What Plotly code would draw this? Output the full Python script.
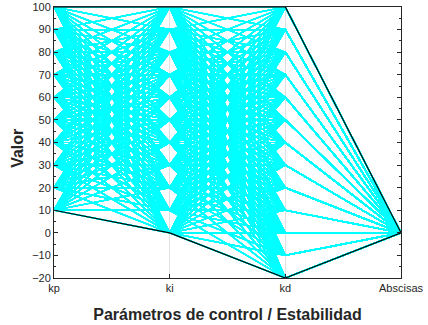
import itertools
import plotly.graph_objects as go

axes_labels = ["kp", "ki", "kd", "Abscisas"]
kp_values = [10, 20, 30, 40, 50, 60, 70, 80, 90, 100]
ki_values = [0, 10, 20, 30, 40, 50, 60, 70, 80, 90, 100]
kd_values = [-20, -10, 0, 10, 20, 30, 40, 50, 60, 70, 80, 90, 100]
abscisa_value = 0
highlight_lines = [[10, 0, -20, 0], [100, 100, 100, 0]]
y_ticks = [-20, -10, 0, 10, 20, 30, 40, 50, 60, 70, 80, 90, 100]

xs_pos = [1, 2, 3, 4]

xs, ys = [], []
for kp, ki, kd in itertools.product(kp_values, ki_values, kd_values):
    xs.extend(xs_pos + [None])
    ys.extend([kp, ki, kd, abscisa_value, None])

fig = go.Figure()
fig.add_trace(go.Scatter(x=xs, y=ys, mode="lines",
                         line=dict(color="#00FFFF", width=1.2),
                         hoverinfo="skip", showlegend=False))
for hl in highlight_lines:
    fig.add_trace(go.Scatter(x=xs_pos, y=hl, mode="lines",
                             line=dict(color="black", width=1.2),
                             hoverinfo="skip", showlegend=False))

font_family = "Liberation Sans, Arial, sans-serif"
fig.update_layout(
    width=428, height=325,
    margin=dict(l=54, r=27, t=7, b=47),
    plot_bgcolor="white", paper_bgcolor="white",
    font=dict(family=font_family, size=11, color="#262626"),
    xaxis=dict(
        range=[1, 4], tickvals=xs_pos, ticktext=axes_labels,
        automargin=False,
        showgrid=True, gridcolor="#e0e0e0", gridwidth=1,
        showline=True, linecolor="#262626", linewidth=1, mirror=True,
        ticks="inside", ticklen=4, tickcolor="#262626",
        zeroline=False,
        title=dict(text="<b>Parámetros de control / Estabilidad</b>",
                   font=dict(size=16, family=font_family, color="#262626")),
    ),
    yaxis=dict(
        range=[-20, 100], tickvals=y_ticks,
        automargin=False,
        showgrid=False, zeroline=False,
        showline=True, linecolor="#262626", linewidth=1, mirror="ticks",
        ticks="inside", ticklen=4, tickcolor="#262626",
        minor=dict(dtick=5, ticks="inside", ticklen=2, tickcolor="#262626"),
    ),
    annotations=[dict(
        text="<b>Valor</b>", xref="paper", yref="paper",
        x=-0.104, y=0.48, xanchor="center", yanchor="middle",
        textangle=-90, showarrow=False,
        font=dict(size=16, family=font_family, color="#262626"),
    )],
)

fig.write_html("out.html", post_script="document.body.style.margin='0';",
               config={"displayModeBar": False})
